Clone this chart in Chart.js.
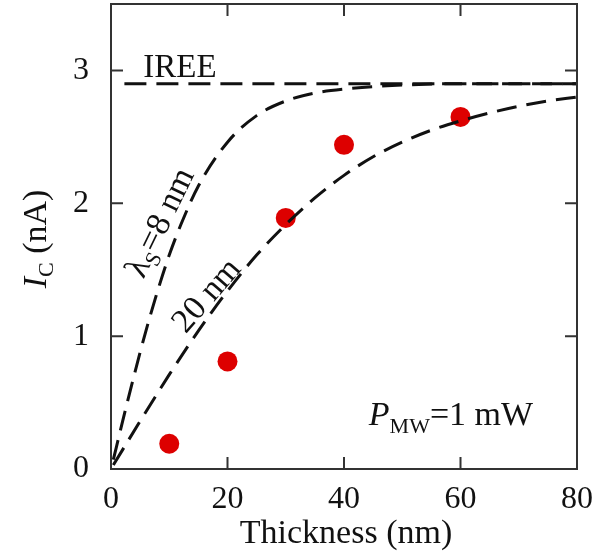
<!DOCTYPE html>
<html>
<head>
<meta charset="utf-8">
<script src="https://cdn.jsdelivr.net/npm/chart.js@4.4.0/dist/chart.umd.min.js"></script>
<style>
  html, body { margin: 0; padding: 0; background: #fff; overflow: hidden; }
  #wrap { width: 613px; height: 560px; margin-top: -6px; }
</style>
</head>
<body>
<div id="wrap"><canvas id="chart"></canvas></div>
<script>
// measured points
const thickness = [10, 20, 30, 40, 60];
const currentNA = [0.19, 0.81, 1.89, 2.44, 2.65];

// model curve, lambda_S = 8 nm
const fit8X = [0.4, 2, 4, 6, 8, 10, 12, 15, 20, 25, 30, 35, 40, 50, 60, 70, 80];
const fit8Y = [0.07, 0.36, 0.71, 1.04, 1.34, 1.61, 1.84, 2.13, 2.46, 2.66, 2.77, 2.83, 2.86, 2.89, 2.90, 2.90, 2.90];

// model curve, lambda_S = 20 nm
const fit20X = [0.4, 5, 10, 15, 20, 25, 30, 35, 40, 45, 50, 55, 60, 65, 70, 75, 80];
const fit20Y = [0.03, 0.36, 0.71, 1.04, 1.34, 1.61, 1.84, 2.04, 2.21, 2.35, 2.46, 2.55, 2.62, 2.68, 2.73, 2.77, 2.80];

// IREE level
const ireeX = [2.3, 80];
const ireeY = [2.9, 2.9];

const xTicks = [0, 20, 40, 60, 80];
const yTicks = [0, 1, 2, 3];

const SERIF = "'Liberation Serif', 'Times New Roman', serif";
const OFF = 6; // canvas is shifted up by this much

function pts(xs, ys) {
    return xs.map((x, i) => ({ x: x, y: ys[i] }));
}

// draw text made of pieces (for italics and subscripts), centred at (cx, cy), rotated
function richText(ctx, parts, cx, cy, angle) {
    ctx.save();
    ctx.translate(cx, cy + OFF);
    ctx.rotate(angle);
    ctx.textBaseline = 'alphabetic';
    ctx.textAlign = 'left';
    let total = 0;
    parts.forEach(p => { ctx.font = p.font; total += ctx.measureText(p.text).width; });
    let x = -total / 2;
    parts.forEach(p => {
        ctx.font = p.font;
        ctx.fillStyle = '#111';
        ctx.fillText(p.text, x, p.dy || 0);
        x += ctx.measureText(p.text).width;
    });
    ctx.restore();
}

const framePlugin = {
    id: 'frame',
    afterDraw(chart) {
        const ctx = chart.ctx;
        const a = chart.chartArea;
        const xs = chart.scales.x, ys = chart.scales.y;
        ctx.save();
        ctx.strokeStyle = '#333';
        ctx.lineWidth = 2;
        ctx.strokeRect(a.left, a.top, a.right - a.left, a.bottom - a.top);
        ctx.beginPath();
        xTicks.slice(1, -1).forEach(v => {
            const px = xs.getPixelForValue(v);
            ctx.moveTo(px, a.bottom); ctx.lineTo(px, a.bottom - 12);
            ctx.moveTo(px, a.top); ctx.lineTo(px, a.top + 12);
        });
        yTicks.slice(1).forEach(v => {
            const py = ys.getPixelForValue(v);
            ctx.moveTo(a.left, py); ctx.lineTo(a.left + 12, py);
            ctx.moveTo(a.right, py); ctx.lineTo(a.right - 12, py);
        });
        ctx.stroke();
        ctx.restore();

        const big = '34px ' + SERIF;
        const bigI = 'italic 34px ' + SERIF;
        const sub = '22px ' + SERIF;

        // axis titles
        richText(ctx, [{ text: 'Thickness (nm)', font: big }], (a.left + a.right) / 2 + 2, 543, 0);
        richText(ctx, [
            { text: 'I', font: bigI },
            { text: 'C', font: sub, dy: 7 },
            { text: ' (nA)', font: big }
        ], 46, 239, -Math.PI / 2);

        // annotations
        richText(ctx, [{ text: 'IREE', font: '33px ' + SERIF }], 180, 77, 0);
        richText(ctx, [
            { text: 'λ', font: big },
            { text: 'S', font: sub, dy: 7 },
            { text: '=8 nm', font: big }
        ], 169, 227, -64 * Math.PI / 180);
        richText(ctx, [{ text: '20 nm', font: big }], 214, 302, -49 * Math.PI / 180);
        richText(ctx, [
            { text: 'P', font: bigI },
            { text: 'MW', font: sub, dy: 8 },
            { text: '=1 mW', font: big }
        ], 451, 425, 0);
    }
};

const dashed = {
    type: 'line',
    showLine: true,
    borderColor: '#111',
    borderWidth: 3,
    borderDash: [20, 10],
    pointRadius: 0,
    fill: false,
    cubicInterpolationMode: 'monotone'
};

new Chart(document.getElementById('chart').getContext('2d'), {
    type: 'scatter',
    data: {
        datasets: [
            Object.assign({ label: 'IREE', data: pts(ireeX, ireeY) }, dashed, { borderDash: [22, 10] }),
            Object.assign({ label: 'λS = 8 nm', data: pts(fit8X, fit8Y) }, dashed),
            Object.assign({ label: 'λS = 20 nm', data: pts(fit20X, fit20Y) }, dashed),
            {
                label: 'Data',
                data: pts(thickness, currentNA),
                pointRadius: 10,
                pointHoverRadius: 10,
                pointBackgroundColor: '#dd0000',
                pointBorderWidth: 0,
                borderWidth: 0
            }
        ]
    },
    options: {
        responsive: true,
        maintainAspectRatio: false,
        animation: false,
        layout: { padding: { top: 4, right: 36, left: 0, bottom: 0 } },
        plugins: {
            legend: { display: false },
            tooltip: { enabled: false }
        },
        scales: {
            x: {
                type: 'linear',
                min: 0,
                max: 80,
                afterBuildTicks(scale) { scale.ticks = xTicks.map(v => ({ value: v })); },
                afterFit(scale) {
                    scale.height = 91 - OFF;
                    scale.paddingLeft = 0;
                    scale.paddingRight = 0;
                },
                grid: { display: false, drawTicks: false },
                border: { display: false },
                ticks: {
                    padding: 11,
                    color: '#111',
                    font: { family: SERIF, size: 32 },
                    maxRotation: 0
                }
            },
            y: {
                type: 'linear',
                min: 0,
                max: 3.5,
                afterBuildTicks(scale) { scale.ticks = yTicks.map(v => ({ value: v })); },
                afterFit(scale) {
                    scale.width = 111;
                    scale.paddingTop = 0;
                    scale.paddingBottom = 0;
                },
                grid: { display: false, drawTicks: false },
                border: { display: false },
                ticks: {
                    padding: 22,
                    color: '#111',
                    font: { family: SERIF, size: 32 }
                }
            }
        }
    },
    plugins: [framePlugin]
});
</script>
</body>
</html>
